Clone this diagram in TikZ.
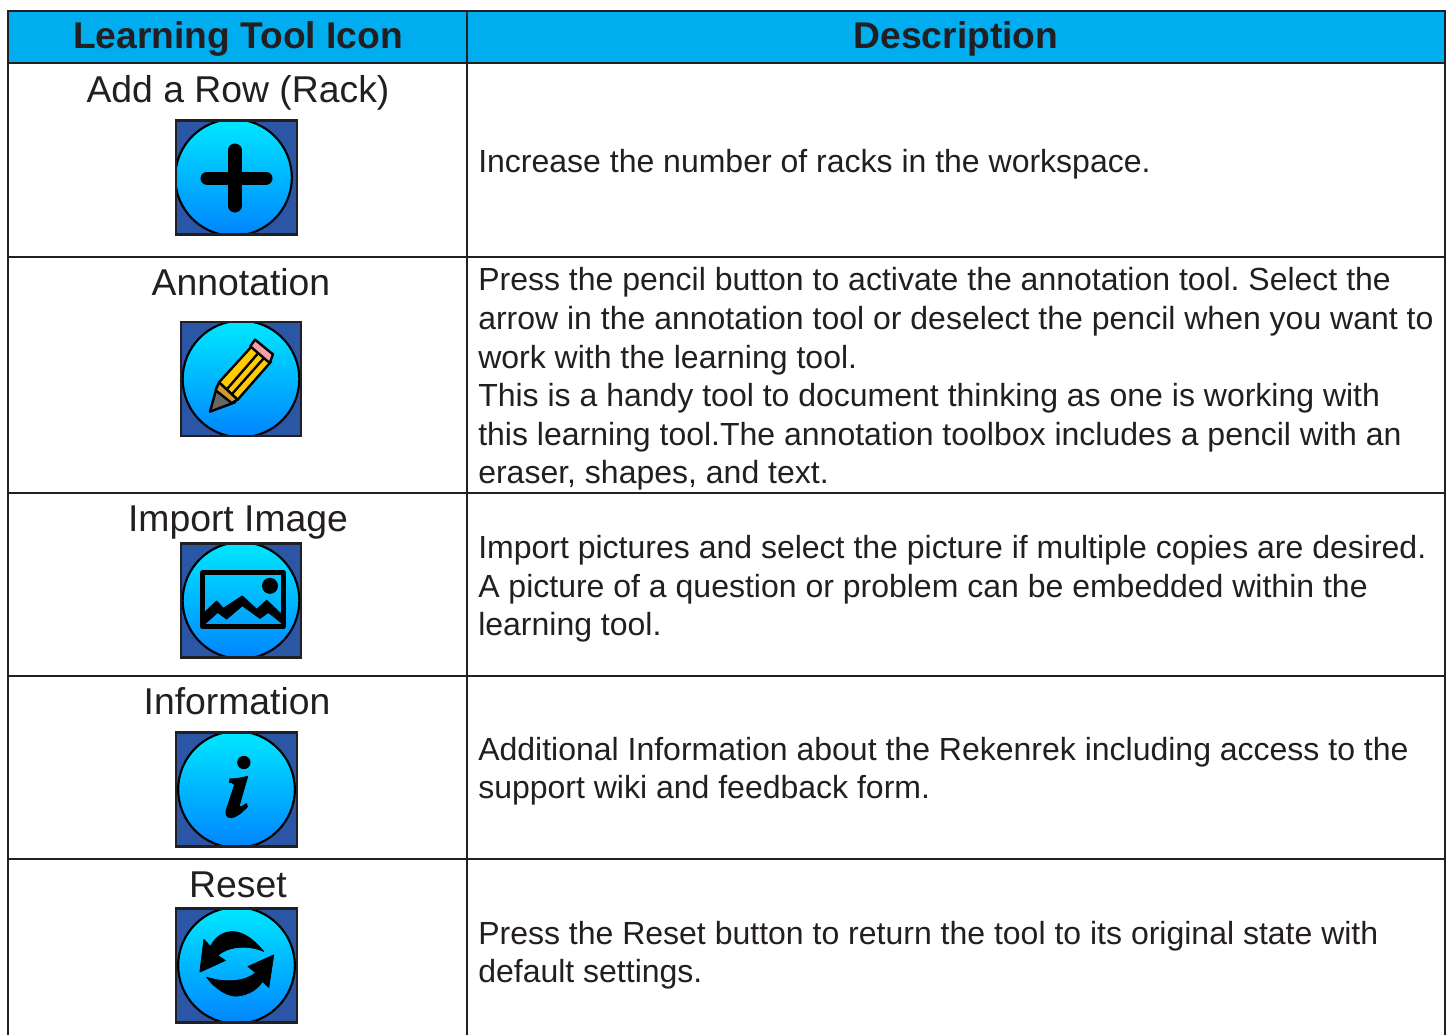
\documentclass[tikz,border=0pt]{standalone}
\usepackage{fontspec}
\setmainfont{Liberation Sans}
\definecolor{ink}{HTML}{231F20}
\definecolor{headfill}{HTML}{00AEEF}
\definecolor{boxblue}{HTML}{2B55A5}
\definecolor{topcy}{HTML}{00E8FF}
\definecolor{botcy}{HTML}{0084FF}
\definecolor{penyellow}{HTML}{FFCC00}
\definecolor{penband}{HTML}{D09A30}
\definecolor{penpink}{HTML}{F4A0A8}
\definecolor{pentip}{HTML}{666666}
\tikzset{
 rule/.style={draw=ink,line width=1.9pt},
 headtxt/.style={font=\fontsize{27.9}{33}\selectfont\bfseries,text=ink,anchor=base},
 tooltxt/.style={font=\fontsize{28}{33}\selectfont,text=ink,anchor=base},
 desctxt/.style={font=\fontsize{24}{28.9}\selectfont\frenchspacing,text=ink,anchor=west,align=left,inner sep=0pt},
 iconball/.style={top color=topcy,bottom color=botcy,draw=black,line width=1.6pt},
 glyph/.style={fill=black,draw=black,line width=.5pt,line join=round},
 penline/.style={draw=black,line width=1.8pt,line join=round},
}
\newcommand{\iconbg}[3]{%
 \begin{scope}[shift={(#1,#2)},x=.25pt,y=-.25pt]
  \begin{scope}
   \clip (-181,-171) rectangle (181,171);
   \fill[boxblue] (-181,-171) rectangle (181,171);
   \path[iconball] (#3,0) circle[radius=175];
  \end{scope}
  \path[draw=ink,line width=1.6pt] (-181,-171) rectangle (181,171);
 \end{scope}}
\begin{document}
\begin{tikzpicture}[x=.75pt,y=-.75pt]
\useasboundingbox (0,0) rectangle (1448,1035);
\fill[white] (0,0) rectangle (1448,1035);
\fill[headfill] (8,11) rectangle (1445,63);
\draw[rule] (8,1035) -- (8,11) -- (1445,11) -- (1445,1035);
\draw[rule] (467,11) -- (467,1035);
\foreach \yy in {63,257,493,676,859} \draw[rule] (8,\yy) -- (1445,\yy);
\node[headtxt] (h1) at (238,48) {Learning Tool Icon};
\node[headtxt] (h2) at (956,48) {Description};
\node[tooltxt] (t1) at (238,102) {Add a Row (Rack)};
\node[tooltxt] (t2) at (241,295) {Annotation};
\node[tooltxt] (t3) at (238,531) {Import Image};
\node[tooltxt] (t4) at (237,714) {Information};
\node[tooltxt] (t5) at (238,897) {Reset};
\node[desctxt] (d1) at (478,164) {Increase the number of racks in the workspace.};
\node[desctxt] (d2) at (478,379) {Press the pencil button to activate the annotation tool. Select the\\arrow in the annotation tool or deselect the pencil when you want to\\work with the learning tool.\\This is a handy tool to document thinking as one is working with\\this learning tool.The annotation toolbox includes a pencil with an\\eraser, shapes, and text.};
\node[desctxt] (d3) at (478,589) {Import pictures and select the picture if multiple copies are desired.\\A picture of a question or problem can be embedded within the\\learning tool.};
\node[desctxt] (d4) at (478,771) {Additional Information about the Rekenrek including access to the\\support wiki and feedback form.};
\node[desctxt] (d5) at (478,955) {Press the Reset button to return the tool to its original state with\\default settings.};
% plus
\iconbg{236.5}{177.5}{-9}
\begin{scope}[shift={(236.5,177.5)},x=.25pt,y=-.25pt]
 \draw[black,line width=10pt,line cap=round] (-88,2) -- (88,2);
 \draw[black,line width=10pt,line cap=round] (-5,-82) -- (-5,85);
\end{scope}
% pencil
\iconbg{241}{379}{0}
\begin{scope}[shift={(241,379)},x=.25pt,y=-.25pt,line join=round]
 \filldraw[fill=pentip,penline] (-93,98) -- (-72,22) -- (-18,70) -- cycle;
 \filldraw[fill=penyellow,penline] (-66,10) -- (34,-100) -- (90,-52) -- (-10,62) -- cycle;
 \filldraw[fill=penband,penline] (-66,10) -- (-10,62) -- (-28,72) -- (-76,34) -- cycle;
 \filldraw[fill=penpink,penline] (42,-118) -- (96,-74) -- (86,-48) -- (28,-98) -- cycle;
 \draw[black,line width=1.8pt] (-40,28) -- (52,-78) (-25,43) -- (68,-62);
\end{scope}
% image
\iconbg{241}{600.5}{0}
\begin{scope}[shift={(241,600.5)},x=.25pt,y=-.25pt,line join=round]
 \draw[black,line width=3.8pt] (-116,-83) rectangle (127,78);
 \fill[black] (87,-44) circle[radius=24];
 \path[glyph] (-110,36) -- (-73,1) -- (-53,23) -- (4,-14) -- (47,26) -- (77,-1) -- (127,46) -- (127,72) -- (82,36) -- (57,54) -- (4,16) -- (-43,56) -- (-70,36) -- (-110,72) -- cycle;
\end{scope}
% info
\iconbg{236.5}{789.5}{0}
\begin{scope}[shift={(236.5,789.5)},x=.25pt,y=-.25pt,line join=round]
 \fill[black] (22,-81) circle[radius=20];
 \path[glyph] (-20,-32) .. controls (0,-32) and (20,-36) .. (34,-40) -- (8,50) .. controls (12,54) and (22,48) .. (30,42) -- (33,52) .. controls (15,70) and (0,83) .. (-15,85) .. controls (-34,85) and (-34,72) .. (-30,58) -- (-6,-14) .. controls (-10,-20) and (-15,-21) .. (-21,-21) -- cycle;
\end{scope}
% reset
\iconbg{236.5}{965.5}{0}
\begin{scope}[shift={(236.5,965.5)},x=.25pt,y=-.25pt,line join=round]
 \path[glyph] (82,-42) .. controls (50,-80) and (20,-102) .. (-15,-102) .. controls (-45,-99) and (-65,-84) .. (-78,-57) -- (-98,-79) -- (-110,20) -- (-33,-15) -- (-56,-30) .. controls (-30,-55) and (30,-65) .. (82,-42) -- cycle;
 \path[glyph] (-90,35) .. controls (-60,75) and (-25,92) .. (0,92) .. controls (40,89) and (65,68) .. (78,48) -- (97,66) -- (112,-32) -- (34,3) -- (57,21) .. controls (35,45) and (-30,55) .. (-90,35) -- cycle;
\end{scope}
\end{tikzpicture}
\end{document}
